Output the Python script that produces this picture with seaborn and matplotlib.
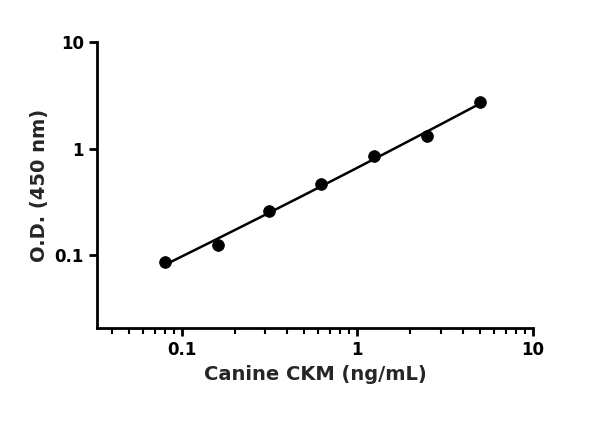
import numpy as np
import matplotlib
matplotlib.use("Agg")
import matplotlib.pyplot as plt
import seaborn as sns
import pandas as pd

conc = [0.08, 0.16, 0.3125, 0.625, 1.25, 2.5, 5.0]
od = [0.086, 0.123, 0.259, 0.46, 0.85, 1.31, 2.72]
xlabel = "Canine CKM (ng/mL)"
ylabel = "O.D. (450 nm)"

sns.set_theme(style="ticks")
plt.rcParams['font.family'] = ['DejaVu Sans']
fig = plt.figure(figsize=(6, 4.21), dpi=100)
ax = fig.add_axes([0.162, 0.221, 0.726, 0.679])

df = pd.DataFrame({"x": conc, "y": od})
lx, ly = np.log10(conc), np.log10(od)
p = np.polyfit(lx, ly, 2)
xs = np.logspace(lx.min(), lx.max(), 200)
ys = 10 ** np.polyval(p, np.log10(xs))
ax.plot(xs, ys, color="black", lw=1.8)
sns.scatterplot(data=df, x="x", y="y", ax=ax, color="black", s=70, edgecolor="black", zorder=3)

ax.set_xscale("log"); ax.set_yscale("log")
ax.set_xlim(0.033, 10); ax.set_ylim(0.0206, 10)
ax.set_xticks([0.1, 1, 10]); ax.set_xticklabels(["0.1", "1", "10"])
ax.set_yticks([0.1, 1, 10]); ax.set_yticklabels(["0.1", "1", "10"])
ax.yaxis.set_minor_locator(matplotlib.ticker.NullLocator())
ax.xaxis.set_minor_locator(matplotlib.ticker.LogLocator(subs=np.arange(2, 10)))
ax.xaxis.set_minor_formatter(matplotlib.ticker.NullFormatter())
sns.despine(ax=ax)
for s in ["left", "bottom"]:
    ax.spines[s].set_linewidth(2); ax.spines[s].set_color("black")
ax.tick_params(which="major", length=6, width=2, labelsize=12, colors="black")
ax.tick_params(which="minor", length=4, width=1.5, colors="black")
for t in ax.get_xticklabels() + ax.get_yticklabels():
    t.set_fontweight("bold")
ax.set_xlabel(xlabel, fontsize=14, fontweight="bold")
ax.set_ylabel(ylabel, fontsize=14, fontweight="bold")
fig.savefig("out.png", dpi=100)
